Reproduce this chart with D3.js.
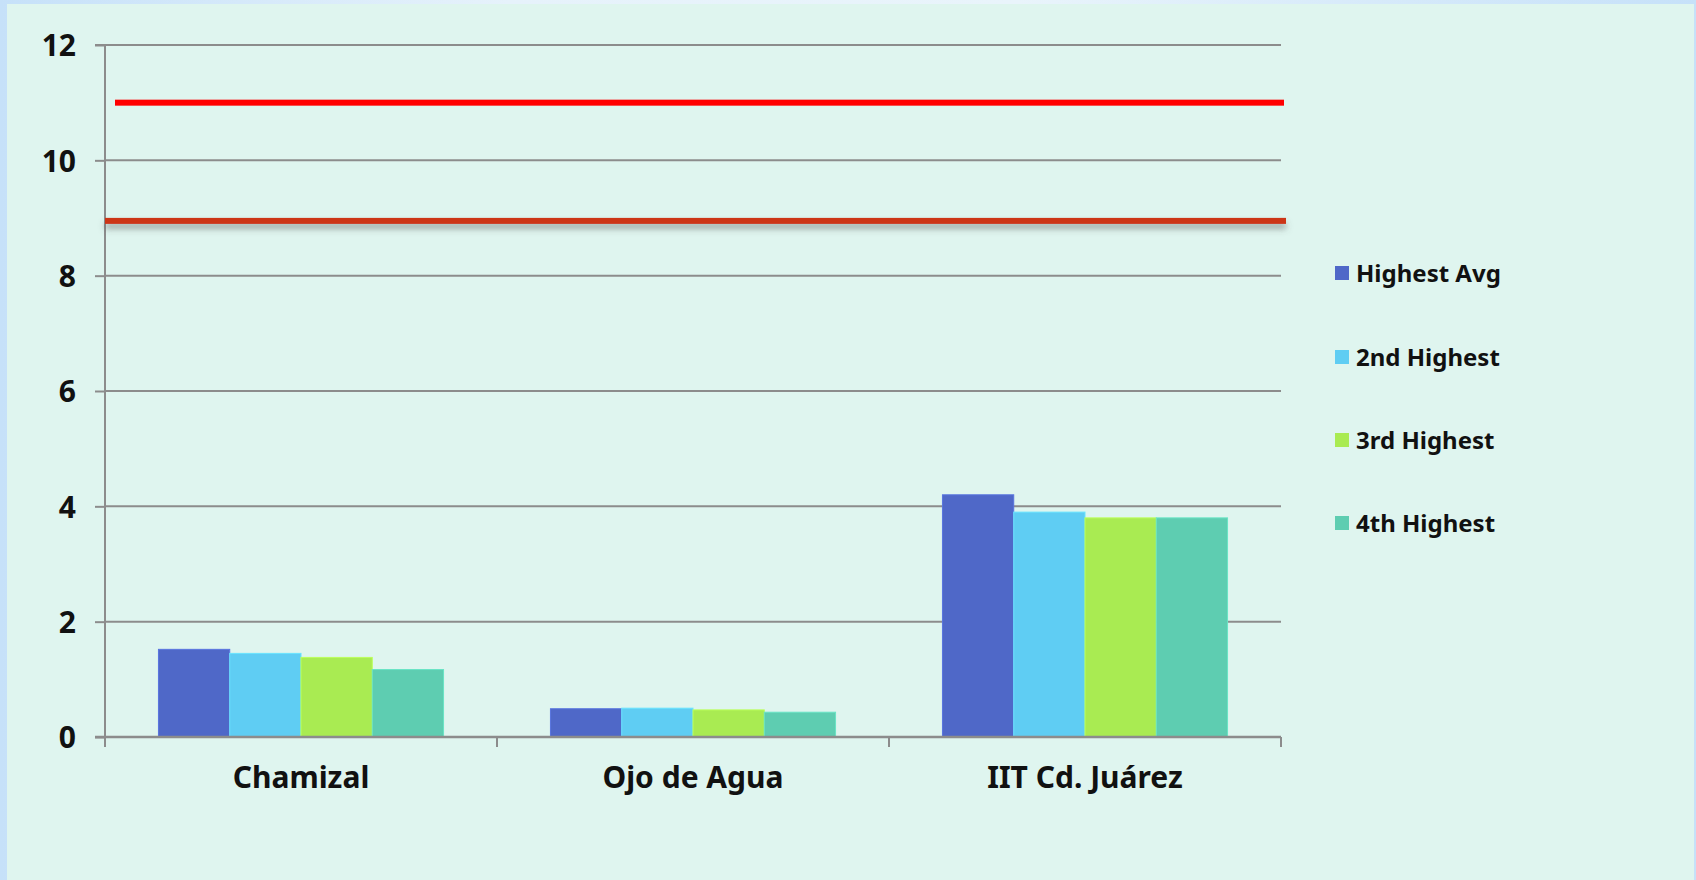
<!DOCTYPE html>
<html>
<head>
<meta charset="utf-8">
<script src="https://cdn.jsdelivr.net/npm/d3@7/dist/d3.min.js"></script>
<style>
  html, body { margin: 0; padding: 0; }
  body { width: 1696px; height: 880px; overflow: hidden;
         background: linear-gradient(90deg, #c6e1f9 0%, #e6f2fb 30%, #e9f4fb 60%, #c6e1f9 100%); }
  svg { display: block; }
</style>
</head>
<body>
<svg id="chart" width="1696" height="880"></svg>
<script>
const categories = ["Chamizal", "Ojo de Agua", "IIT Cd. Juárez"];
const seriesNames = ["Highest Avg", "2nd Highest", "3rd Highest", "4th Highest"];
const highestAvg = [1.52, 0.49, 4.2];
const secondHighest = [1.45, 0.50, 3.9];
const thirdHighest = [1.38, 0.47, 3.8];
const fourthHighest = [1.17, 0.43, 3.8];
const yTicks = [0, 2, 4, 6, 8, 10, 12];
const limitLines = [11, 8.95];

const seriesValues = [highestAvg, secondHighest, thirdHighest, fourthHighest];
const colors = ["#4f68c8", "#5fcdf3", "#a9eb52", "#5ecdb1"];

const svg = d3.select("#chart");
const x0 = 105, x1 = 1281, y0 = 737, y1 = 45;
const font = "'Noto Sans', 'Open Sans', sans-serif";

// panel background
svg.append("rect").attr("x", 7).attr("y", 4).attr("width", 1687).attr("height", 876)
  .attr("fill", "#dff5ef");

const x = d3.scaleBand().domain(categories).range([x0, x1]).paddingInner(0).paddingOuter(0);
const groupW = x.bandwidth() * 4 / 5.5;
const xs = d3.scaleBand().domain(d3.range(4)).range([0, groupW]).padding(0);
const y = d3.scaleLinear().domain([0, 12]).range([y0, y1]);

// gridlines
svg.append("g").selectAll("line").data(yTicks.filter(t => t > 0)).join("line")
  .attr("x1", x0).attr("x2", x1)
  .attr("y1", d => y(d)).attr("y2", d => y(d))
  .attr("stroke", "#8c8c8c").attr("stroke-width", 2);

// bars
const groups = svg.append("g").selectAll("g").data(categories).join("g")
  .attr("transform", d => `translate(${x(d) + (x.bandwidth() - groupW) / 2},0)`);
groups.selectAll("rect").data((c, ci) => seriesValues.map((vals, si) => ({ si, v: vals[ci] })))
  .join("rect")
  .attr("x", d => xs(d.si))
  .attr("width", xs.bandwidth())
  .attr("y", d => y(d.v))
  .attr("height", d => y0 - y(d.v))
  .attr("fill", d => colors[d.si])
  .attr("stroke", d => d3.color(colors[d.si]).brighter(0.3))
  .attr("stroke-width", 1);

// y axis
const yAxis = d3.axisLeft(y).tickValues(yTicks).tickSize(10).tickPadding(19);
const gy = svg.append("g").attr("transform", `translate(${x0},0)`).call(yAxis);
gy.select(".domain").attr("stroke", "#8c8c8c").attr("stroke-width", 2).attr("d", `M-10,${y1}H0V${y0}`);
gy.selectAll(".tick line").attr("stroke", "#8c8c8c").attr("stroke-width", 2);
gy.selectAll(".tick text").attr("fill", "#111").style("font-family", font)
  .style("font-size", "30px").style("font-weight", "bold").attr("dy", "0.36em");

// x axis
const gx = svg.append("g").attr("transform", `translate(0,${y0})`);
gx.append("line").attr("x1", x0 - 10).attr("x2", x1).attr("y1", 0).attr("y2", 0)
  .attr("stroke", "#8c8c8c").attr("stroke-width", 2.5);
const bounds = categories.map(c => x(c)).concat([x1]);
gx.selectAll(".tk").data(bounds).join("line").attr("class", "tk")
  .attr("x1", d => d).attr("x2", d => d).attr("y1", 0).attr("y2", 10)
  .attr("stroke", "#8c8c8c").attr("stroke-width", 2);
gx.selectAll("text").data(categories).join("text")
  .attr("x", d => x(d) + x.bandwidth() / 2).attr("y", 51)
  .attr("text-anchor", "middle").attr("fill", "#111")
  .style("font-family", font).style("font-size", "30px").style("font-weight", "bold")
  .text(d => d);

// limit lines
const defs = svg.append("defs");
const f = defs.append("filter").attr("id", "shadow").attr("filterUnits", "userSpaceOnUse")
  .attr("x", 0).attr("y", 150).attr("width", 1696).attr("height", 150);
f.append("feDropShadow").attr("dx", 0).attr("dy", 5).attr("stdDeviation", 3)
  .attr("flood-color", "#555").attr("flood-opacity", 0.5);

svg.append("rect").attr("x", 115).attr("width", 1284 - 115)
  .attr("y", y(limitLines[0]) - 3).attr("height", 6)
  .attr("fill", "#ff0000");
svg.append("rect").attr("x", 105).attr("width", 1286 - 105)
  .attr("y", y(limitLines[1]) - 3).attr("height", 6)
  .attr("fill", "#cc3418").attr("filter", "url(#shadow)");

// legend
const legend = svg.append("g");
const legTops = [266, 350, 433, 516];
const li = legend.selectAll("g").data(seriesNames).join("g")
  .attr("transform", (d, i) => `translate(1335,${legTops[i]})`);
li.append("rect").attr("width", 14).attr("height", 14).attr("fill", (d, i) => colors[i]);
li.append("text").attr("x", 21).attr("y", 16).attr("fill", "#111")
  .style("font-family", font).style("font-size", "24px").style("font-weight", "bold")
  .text(d => d);
</script>
</body>
</html>
